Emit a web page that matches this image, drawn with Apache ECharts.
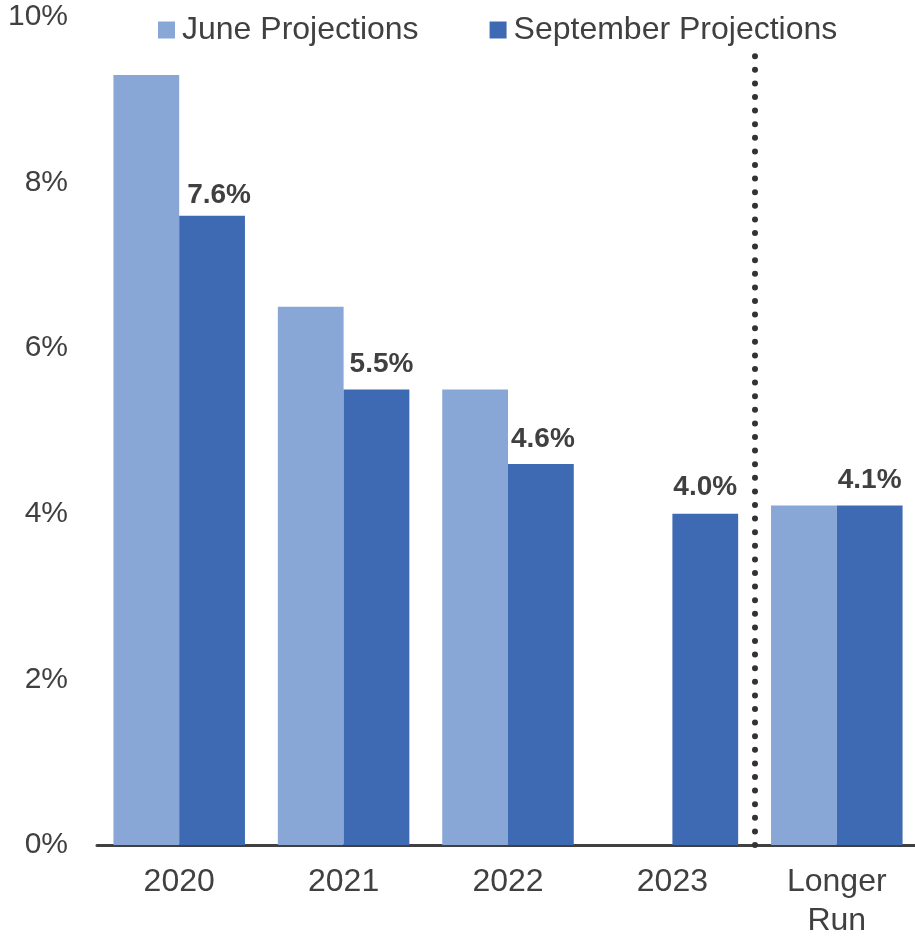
<!DOCTYPE html>
<html>
<head>
<meta charset="utf-8">
<script src="https://cdn.jsdelivr.net/npm/echarts@6/dist/echarts.min.js"></script>
<style>
html,body{margin:0;padding:0;background:#fff;}
#chart{width:915px;height:937px;}
</style>
</head>
<body>
<div id="chart"></div>
<script>
var categories = ['2020', '2021', '2022', '2023', 'Longer\nRun'];
var juneValues = [9.3, 6.5, 5.5, null, 4.1];
var septemberValues = [7.6, 5.5, 4.6, 4.0, 4.1];
var seriesNames = ['June Projections', 'September Projections'];
var yTicks = [0, 2, 4, 6, 8, 10];
var dividerPosition = 4;   // boundary between 2023 and Longer Run (category units)
var dividerTop = 9.6;

// label placement tweaks (style only)
var labelDistance = [6, 11, 11, 13, 11];
var labelShiftX = [7, 5, 2, 0, 0];

var textColor = '#404040';
var chart = echarts.init(document.getElementById('chart'));
chart.setOption({
  animation: false,
  textStyle: { fontFamily: 'Liberation Sans, Arial, sans-serif', color: textColor },
  legend: {
    left: 153, top: 9,
    itemWidth: 17, itemHeight: 17, itemGap: 71,
    icon: 'rect',
    textStyle: { fontSize: 32, color: textColor, padding: [0, 0, 0, 2] },
    data: seriesNames
  },
  grid: { left: 97, right: -4, top: 17, bottom: 92, containLabel: false, outerBoundsMode: 'none' },
  xAxis: [{
    type: 'category',
    data: categories,
    axisLine: { lineStyle: { color: textColor, width: 3 } },
    axisTick: { show: false },
    axisLabel: { fontSize: 32, color: textColor, margin: 18, lineHeight: 39, interval: 0 }
  }, {
    type: 'value', min: 0, max: categories.length, show: false
  }],
  yAxis: {
    type: 'value', min: yTicks[0], max: yTicks[yTicks.length - 1], interval: 2,
    splitLine: { show: false },
    axisLine: { show: false },
    axisTick: { show: false },
    axisLabel: { fontSize: 30, color: textColor, margin: 29, formatter: '{value}%' }
  },
  series: [{
    name: seriesNames[0], type: 'bar', data: juneValues,
    itemStyle: { color: '#88A7D6' },
    barGap: '0%', barCategoryGap: '20%'
  }, {
    name: seriesNames[1], type: 'bar',
    data: septemberValues.map(function (v, i) {
      return { value: v, label: { distance: labelDistance[i], offset: [labelShiftX[i], 0] } };
    }),
    itemStyle: { color: '#3E6AB3' },
    barGap: '0%', barCategoryGap: '20%',
    label: {
      show: true, position: 'top',
      fontSize: 28, fontWeight: 'bold', color: textColor,
      formatter: function (p) { return p.value.toFixed(1) + '%'; }
    }
  }, {
    type: 'line', xAxisIndex: 1, yAxisIndex: 0, data: [],
    silent: true,
    markLine: {
      symbol: 'none', silent: true, label: { show: false },
      lineStyle: { color: '#333333', width: 6, type: [0, 13.6], cap: 'round' },
      data: [[{ coord: [dividerPosition, 0] }, { coord: [dividerPosition, dividerTop] }]]
    }
  }]
});
</script>
</body>
</html>
